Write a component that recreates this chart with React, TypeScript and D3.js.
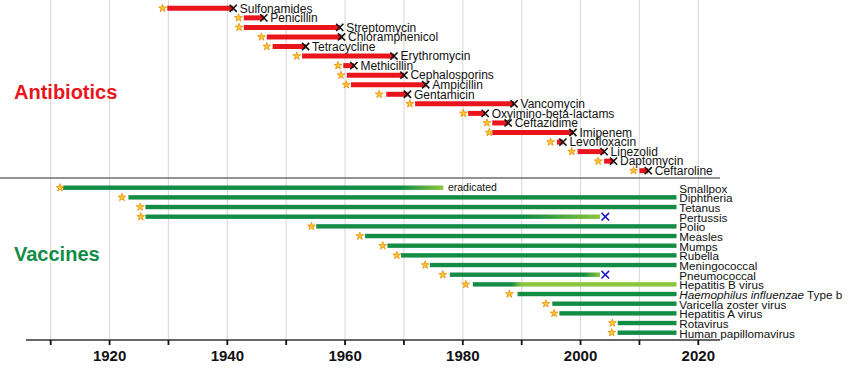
import React from "react";
import * as d3 from "d3";

// ---- Data ----
const antibioticNames = [
  "Sulfonamides", "Penicillin", "Streptomycin", "Chloramphenicol", "Tetracycline",
  "Erythromycin", "Methicillin", "Cephalosporins", "Ampicillin", "Gentamicin",
  "Vancomycin", "Oxyimino-beta-lactams", "Ceftazidime", "Imipenem", "Levofloxacin",
  "Linezolid", "Daptomycin", "Ceftaroline",
];
const antibioticDiscovered = [1929.0, 1941.9, 1942.0, 1945.8, 1946.7, 1951.8, 1958.8, 1959.3, 1960.2, 1965.8, 1971.0, 1980.1, 1984.1, 1984.5, 1994.9, 1998.5, 2003.0, 2009.0];
const antibioticIntroduced = [1929.8, 1942.8, 1942.8, 1946.7, 1947.7, 1952.7, 1959.7, 1960.3, 1961.0, 1967.0, 1971.9, 1980.9, 1985.0, 1985.0, 1996.0, 1999.5, 2004.0, 2010.0];
const antibioticResistance = [1941.0, 1946.2, 1959.1, 1959.4, 1953.3, 1968.3, 1961.5, 1970.0, 1973.7, 1970.6, 1988.7, 1983.8, 1987.7, 1998.7, 1997.0, 2004.0, 2005.6, 2011.5];

const vaccineNames = [
  "Smallpox", "Diphtheria", "Tetanus", "Pertussis", "Polio", "Measles", "Mumps",
  "Rubella", "Meningococcal", "Pneumococcal", "Hepatitis B virus",
  "Haemophilus influenzae|Type b", "Varicella zoster virus", "Hepatitis A virus",
  "Rotavirus", "Human papillomavirus",
];
const vaccineDiscovered = [1911.6, 1922.1, 1925.2, 1925.3, 1954.3, 1962.5, 1966.4, 1968.8, 1973.6, 1976.6, 1980.5, 1987.9, 1994.1, 1995.5, 2005.4, 2005.3];
const vaccineIntroduced = [1912.1, 1923.2, 1926.1, 1926.1, 1955.1, 1963.4, 1967.2, 1969.5, 1974.4, 1977.8, 1981.7, 1989.3, 1995.2, 1996.4, 2006.3, 2006.3];
const vaccineEnd = [1976.7, 2016.3, 2016.3, 2003.3, 2016.3, 2016.3, 2016.3, 2016.3, 2016.3, 2003.3, 2016.3, 2016.3, 2016.3, 2016.3, 2016.3, 2016.3];
const vaccineFadeFrom: (number | null)[] = [1969.5, null, null, 1990.7, null, null, null, null, null, 2000.5, 1988.3, null, null, null, null, null];
const vaccineFadeTo: (number | null)[] = [1976.7, null, null, 2003.3, null, null, null, null, null, 2003.3, 1990.0, null, null, null, null, null];
const vaccineResurgence: (number | null)[] = [null, null, null, 2004.2, null, null, null, null, null, 2004.2, null, null, null, null, null, null];
const vaccineNote: (string | null)[] = ["eradicated", null, null, null, null, null, null, null, null, null, null, null, null, null, null, null];

const tickYears = d3.range(1910, 2021, 10);
const labelYears = d3.range(1920, 2021, 20);

// ---- Styles ----
const RED = "#e8151d";
const GREEN = "#138c45";
const LIGHT_GREEN = "#8cc63f";
const FONT = "'Liberation Sans', Arial, Helvetica, sans-serif";

export default function App() {
  const W = 850, H = 376;
  const x = d3.scaleLinear().domain([1910, 2020]).range([50.7, 698.3]);
  const yA = d3.scaleLinear().domain([0, antibioticNames.length - 1]).range([8.3, 170.7]);
  const yV = d3.scaleLinear().domain([0, vaccineNames.length - 1]).range([187.7, 332.7]);
  const axisY = 340;
  const star = d3.symbol().type(d3.symbolStar).size(19)() as string;

  const cross = (cx: number, cy: number, r: number, color: string, key: string) => (
    <path key={key} d={`M${cx - r},${cy - r}L${cx + r},${cy + r}M${cx - r},${cy + r}L${cx + r},${cy - r}`}
      stroke={color} strokeWidth={1.6} fill="none" />
  );

  const starMark = (cx: number, cy: number, key: string) => (
    <path key={key} d={star} transform={`translate(${cx},${cy})`} fill="#f9cc2e" stroke="#ee8a0a" strokeWidth={0.8} />
  );

  return (
    <svg width={W} height={H} style={{ position: "absolute", left: 0, top: 0, background: "#fff" }}
      fontFamily={FONT}>
      <defs>
        {vaccineNames.map((_, i) =>
          vaccineFadeFrom[i] != null ? (
            <linearGradient key={i} id={`vg${i}`} gradientUnits="userSpaceOnUse"
              x1={x(vaccineFadeFrom[i] as number)} x2={x(vaccineFadeTo[i] as number)} y1={0} y2={0}>
              <stop offset="0" stopColor={GREEN} />
              <stop offset="1" stopColor={LIGHT_GREEN} />
            </linearGradient>
          ) : null
        )}
      </defs>

      {/* gridlines */}
      {tickYears.map((t) => (
        <line key={t} x1={x(t)} x2={x(t)} y1={0} y2={axisY} stroke="#dcdcdc" strokeWidth={1.2} />
      ))}

      {/* separator */}
      <line x1={0} x2={720} y1={178} y2={178} stroke="#6e6e6e" strokeWidth={1.5} />

      {/* section titles */}
      <text x={14} y={99} fontSize={20} fontWeight="bold" fill={RED}>Antibiotics</text>
      <text x={14} y={261} fontSize={20} fontWeight="bold" fill={GREEN}>Vaccines</text>

      {/* antibiotics */}
      {antibioticNames.map((name, i) => {
        const cy = yA(i);
        const x0 = x(antibioticIntroduced[i]);
        const x1 = x(antibioticResistance[i]);
        return (
          <g key={name}>
            <line x1={x0} x2={x1} y1={cy} y2={cy} stroke={RED} strokeWidth={5} />
            {starMark(x(antibioticDiscovered[i]), cy, "s")}
            {cross(x1, cy, 3.6, "#111", "x")}
            <text x={x1 + 6.5} y={cy + 4.3} fontSize={12} fill="#111">{name}</text>
          </g>
        );
      })}

      {/* vaccines */}
      {vaccineNames.map((name, i) => {
        const cy = yV(i);
        const x0 = x(vaccineIntroduced[i]);
        const x1 = x(vaccineEnd[i]);
        const fill = vaccineFadeFrom[i] != null ? `url(#vg${i})` : GREEN;
        const parts = name.split("|");
        return (
          <g key={name}>
            <rect x={x0} y={cy - 2.2} width={x1 - x0} height={4.4} fill={fill} />
            {starMark(x(vaccineDiscovered[i]), cy, "s")}
            {vaccineResurgence[i] != null && cross(x(vaccineResurgence[i] as number), cy, 3.8, "#1b1bd0", "x")}
            {vaccineNote[i] && (
              <text x={x1 + 4.5} y={cy + 3.5} fontSize={10.5} fill="#111">{vaccineNote[i]}</text>
            )}
            <text x={679.3} y={cy + 4.8} fontSize={11.7} fill="#111">
              {parts.length > 1 ? (
                <>
                  <tspan fontStyle="italic">{parts[0]}</tspan>
                  <tspan>{" " + parts[1]}</tspan>
                </>
              ) : name}
            </text>
          </g>
        );
      })}

      {/* axis */}
      <line x1={26} x2={720} y1={axisY} y2={axisY} stroke="#666" strokeWidth={2} />
      {tickYears.map((t) => (
        <line key={t} x1={x(t)} x2={x(t)} y1={axisY} y2={axisY + 5} stroke="#111" strokeWidth={1.8} />
      ))}
      {labelYears.map((t) => (
        <text key={t} x={x(t)} y={360.5} fontSize={15} fontWeight="bold" textAnchor="middle" fill="#111">{t}</text>
      ))}
    </svg>
  );
}
